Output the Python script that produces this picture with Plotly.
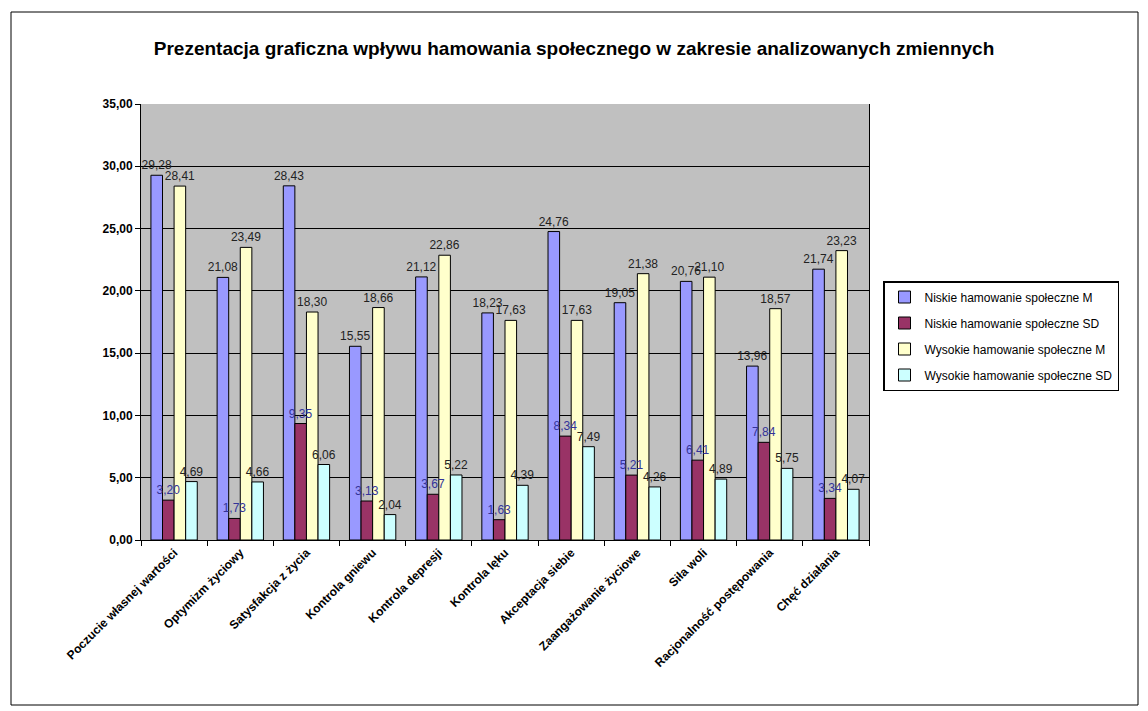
import plotly.graph_objects as go

categories = [
    "Poczucie własnej wartości",
    "Optymizm życiowy",
    "Satysfakcja z życia",
    "Kontrola gniewu",
    "Kontrola depresji",
    "Kontrola lęku",
    "Akceptacja siebie",
    "Zaangażowanie życiowe",
    "Siła woli",
    "Racjonalność postępowania",
    "Chęć działania",
]
series_names = [
    "Niskie hamowanie społeczne M",
    "Niskie hamowanie społeczne SD",
    "Wysokie hamowanie społeczne M",
    "Wysokie hamowanie społeczne SD",
]
niskie_M = [29.28, 21.08, 28.43, 15.55, 21.12, 18.23, 24.76, 19.05, 20.76, 13.96, 21.74]
niskie_SD = [3.20, 1.73, 9.35, 3.13, 3.67, 1.63, 8.34, 5.21, 6.41, 7.84, 3.34]
wysokie_M = [28.41, 23.49, 18.30, 18.66, 22.86, 17.63, 17.63, 21.38, 21.10, 18.57, 23.23]
wysokie_SD = [4.69, 4.66, 6.06, 2.04, 5.22, 4.39, 7.49, 4.26, 4.89, 5.75, 4.07]
y_ticks = [0, 5, 10, 15, 20, 25, 30, 35]

colors = ["#9999FF", "#993366", "#FFFFCC", "#CCFFFF"]
label_colors = ["#222222", "#333399", "#222222", "#222222"]
values = [niskie_M, niskie_SD, wysokie_M, wysokie_SD]

W, H = 1148, 711
L, R, T, B = 141, 869, 104, 540

fig = go.Figure()
# visible bars
for i, (name, vals, col) in enumerate(zip(series_names, values, colors)):
    fig.add_trace(go.Bar(
        x=categories, y=vals, name=name, offsetgroup=str(i), legendgroup=str(i),
        marker=dict(color=col, line=dict(color="black", width=1)),
    ))
# transparent bars on top carrying the value labels (so labels are not hidden by neighbours)
for i, (vals, lc) in enumerate(zip(values, label_colors)):
    fig.add_trace(go.Bar(
        x=categories, y=vals, offsetgroup=str(i), legendgroup=str(i),
        showlegend=False, hoverinfo="skip",
        marker=dict(color="rgba(0,0,0,0)", line=dict(width=0)),
        text=[f"{v:.2f}".replace(".", ",") for v in vals],
        textposition="outside", cliponaxis=False, constraintext="none",
        textfont=dict(family="Liberation Sans, Arial", size=12, color=lc),
    ))

fig.update_layout(
    width=W, height=H,
    margin=dict(l=L, r=W - R, t=T, b=H - B, autoexpand=False),
    paper_bgcolor="white", plot_bgcolor="#C0C0C0",
    barmode="group", bargap=0.3, bargroupgap=0,
    separators=", ",
    title=dict(text="<b>Prezentacja graficzna wpływu hamowania społecznego w zakresie analizowanych zmiennych</b>",
               x=0.5, xref="container", y=1 - 48 / H, yanchor="middle", xanchor="center",
               font=dict(family="Liberation Sans, Arial", size=19, color="black")),
    legend=dict(x=(883 - L) / (R - L), y=1 - (281 - T) / (B - T), xanchor="left", yanchor="top",
                bordercolor="black", borderwidth=1.5, bgcolor="white",
                font=dict(family="Liberation Sans, Arial", size=12, color="black"),
                tracegroupgap=7, itemwidth=30),
    font=dict(family="Liberation Sans, Arial", color="black"),
    showlegend=True,
)
fig.update_xaxes(showline=True, linecolor="black", linewidth=1, ticks="outside",
                 tickson="boundaries", ticklen=5, tickcolor="black", tickangle=-45,
                 tickfont=dict(family="Liberation Sans, Arial", size=12, color="black", weight="bold"),
                 showgrid=False)
fig.update_yaxes(range=[0, 35], tickvals=y_ticks, tickformat=".2f", showline=True,
                 linecolor="black", linewidth=1, mirror=True, ticks="outside", ticklen=5,
                 tickcolor="black", showgrid=True, gridcolor="black", gridwidth=1,
                 tickfont=dict(family="Liberation Sans, Arial", size=12, color="black", weight="bold"),
                 zeroline=False)

# outer chart frame
fig.add_shape(type="rect", xref="paper", yref="paper",
              x0=(11 - L) / (R - L), x1=(1138 - L) / (R - L),
              y0=1 - (705 - T) / (B - T), y1=1 - (12 - T) / (B - T),
              line=dict(color="black", width=1), fillcolor="rgba(0,0,0,0)", layer="below")

fig.write_html("out.html")
